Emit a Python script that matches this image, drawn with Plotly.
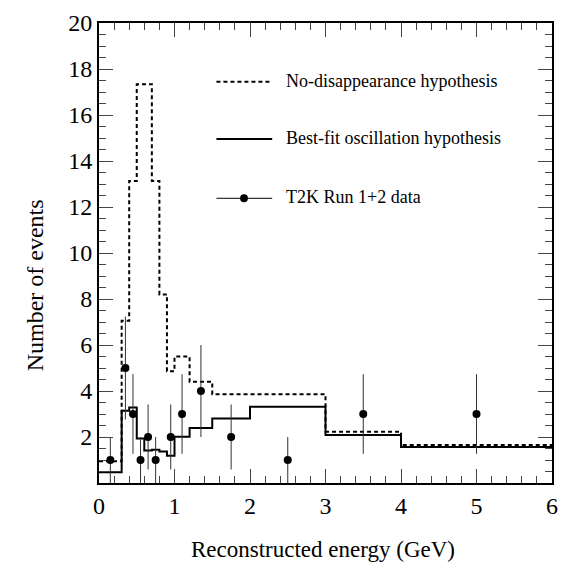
import plotly.graph_objects as go
import numpy as np

# Bin edges (GeV)
bin_edges = [0.0, 0.3, 0.4, 0.5, 0.6, 0.7, 0.8, 0.9, 1.0, 1.2, 1.5, 2.0, 3.0, 4.0, 6.0]
# No-disappearance expectation per bin
no_disappearance = [0.95, 7.05, 13.13, 17.34, 17.34, 13.13, 8.2, 4.86, 5.5, 4.4, 3.86, 3.86, 2.23, 1.65]
# Best-fit oscillation expectation per bin
best_fit = [0.47, 3.14, 3.28, 1.94, 1.41, 1.45, 1.37, 1.19, 2.01, 2.39, 2.80, 3.31, 2.09, 1.57]
# Observed data (bin centres, counts)
data_x = [0.15, 0.35, 0.45, 0.55, 0.65, 0.75, 0.95, 1.1, 1.35, 1.75, 2.5, 3.5, 5.0]
data_n = [1, 5, 3, 1, 2, 1, 2, 3, 4, 2, 1, 3, 3]

legend_labels = ["No-disappearance hypothesis", "Best-fit oscillation hypothesis", "T2K Run 1+2 data"]
x_ticks = [0, 1, 2, 3, 4, 5, 6]
y_ticks = [0, 2, 4, 6, 8, 10, 12, 14, 16, 18, 20]

FONT = "Liberation Serif, Times New Roman, DejaVu Serif, serif"

fig = go.Figure()
fig.add_trace(go.Scatter(
    x=bin_edges, y=no_disappearance + [no_disappearance[-1]],
    mode="lines", line=dict(shape="hv", color="black", width=2, dash="4px,3px"),
    showlegend=False, hoverinfo="skip"))
fig.add_trace(go.Scatter(
    x=bin_edges, y=best_fit + [best_fit[-1]],
    mode="lines", line=dict(shape="hv", color="black", width=2),
    showlegend=False, hoverinfo="skip"))
fig.add_trace(go.Scatter(
    x=data_x, y=data_n, mode="markers",
    marker=dict(color="black", size=8, symbol="circle"),
    error_y=dict(type="data", array=list(np.sqrt(data_n)), width=0, thickness=1, color="#333"),
    showlegend=False))

# Manual legend
X0, X1 = 98.5, 558.3
Y0, Y1 = 482.7, 19.0
def px(x):
    return (x - X0) / (X1 - X0)
def py(y):
    return (Y0 - y) / (Y0 - Y1)

rows = [78.3, 136.0, 195.7]
shapes = []
shapes.append(dict(type="line", xref="paper", yref="paper", x0=px(217.7), x1=px(274.3),
                   y0=py(rows[0]), y1=py(rows[0]), line=dict(color="black", width=2, dash="4px,3px")))
shapes.append(dict(type="line", xref="paper", yref="paper", x0=px(217.7), x1=px(274.3),
                   y0=py(rows[1]), y1=py(rows[1]), line=dict(color="black", width=2)))
shapes.append(dict(type="line", xref="paper", yref="paper", x0=px(217.7), x1=px(274.3),
                   y0=py(rows[2]), y1=py(rows[2]), line=dict(color="black", width=1)))
shapes.append(dict(type="circle", xref="paper", yref="paper", x0=px(245.7 - 4), x1=px(245.7 + 4),
                   y0=py(rows[2] + 4), y1=py(rows[2] - 4), fillcolor="black", line=dict(color="black", width=0)))

annotations = []
for lab, r in zip(legend_labels, rows):
    annotations.append(dict(text=lab, xref="paper", yref="paper", x=px(286), y=py(r - 1),
                            xanchor="left", yanchor="middle", showarrow=False,
                            font=dict(family=FONT, size=18, color="black")))
annotations.append(dict(text="Reconstructed energy (GeV)", xref="paper", yref="paper",
                        x=px(326), y=py(550), xanchor="center", yanchor="middle", showarrow=False,
                        font=dict(family=FONT, size=23, color="black")))
annotations.append(dict(text="Number of events", xref="paper", yref="paper", textangle=-90,
                        x=px(33), y=py(283), xanchor="center", yanchor="middle", showarrow=False,
                        font=dict(family=FONT, size=24, color="black")))

fig.update_layout(
    width=569, height=565,
    margin=dict(l=98.5, r=569 - 558.3, t=19, b=565 - 482.7),
    paper_bgcolor="white", plot_bgcolor="white",
    shapes=shapes, annotations=annotations, showlegend=False,
    font=dict(family=FONT, color="black"),
)
fig.update_xaxes(
    range=[0, 6], tickvals=x_ticks, ticktext=[str(v) for v in x_ticks],
    ticks="inside", ticklen=14, tickwidth=1, tickcolor="#444",
    minor=dict(dtick=0.2, tick0=0, ticks="inside", ticklen=7, tickwidth=1, tickcolor="#444"),
    showline=True, linewidth=2, linecolor="black", mirror="ticks",
    showgrid=False, zeroline=False, tickfont=dict(family=FONT, size=24, color="black"),
)
fig.update_yaxes(
    range=[0, 20], tickvals=y_ticks, ticktext=[("" if v == 0 else str(v)) for v in y_ticks],
    ticks="inside", ticklen=14, tickwidth=1, tickcolor="#444",
    minor=dict(dtick=0.5, tick0=0, ticks="inside", ticklen=7, tickwidth=1, tickcolor="#444"),
    showline=True, linewidth=2, linecolor="black", mirror="ticks",
    showgrid=False, zeroline=False, tickfont=dict(family=FONT, size=24, color="black"),
    ticklabelstandoff=0,
)

fig.write_html("out.html")
